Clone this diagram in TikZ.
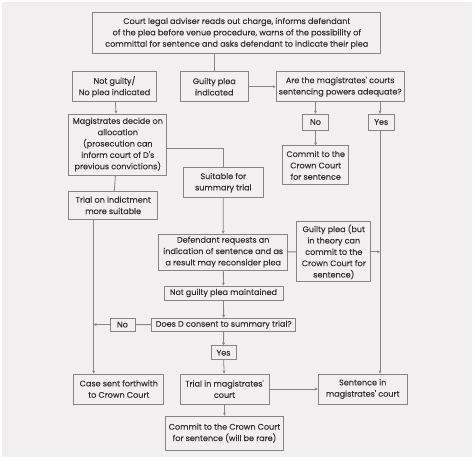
\documentclass[tikz,border=0pt]{standalone}
\usepackage{xcolor}
\usepackage{fontspec}
\setmainfont{Poppins}
\newfontfamily\boxfont{Poppins}[FakeBold=0.3]
\usepackage{tikz}
\usetikzlibrary{arrows.meta, positioning, calc}
\definecolor{panelgray}{HTML}{F1EFF0}
\definecolor{linegray}{HTML}{858585}
\definecolor{textgray}{HTML}{333333}

\begin{document}
\begin{tikzpicture}[x=1bp, y=-1bp,
    box/.style={draw=linegray, line width=0.8bp, align=center, inner sep=0pt, font=\boxfont\fontsize{8.1}{11.4}\selectfont, text=textgray},
    arr/.style={-{Stealth[length=3pt, width=3pt]}, draw=linegray, line width=0.8bp},
    ln/.style={draw=linegray, line width=0.8bp}]
    \useasboundingbox (0,0) rectangle (474,462);
    \fill[white] (0,0) rectangle (474,462);
    \fill[panelgray] (2,2) rectangle (472,457);

    \node[box, minimum width=288bp, minimum height=41bp] (top) at (236.8,33.3) {Court legal adviser reads out charge, informs defendant\\of the plea before venue procedure, warns of the possibility of\\committal for sentence and asks defendant to indicate their plea};
    \node[box, minimum width=84bp, minimum height=30bp] (ng) at (114.5,86.7) {Not guilty/\\No plea indicated};
    \node[box, minimum width=68bp, minimum height=30bp] (gp) at (214.3,86.7) {Guilty plea\\indicated};
    \node[box, minimum width=128bp, minimum height=30bp] (adeq) at (340.2,86.7) {Are the magistrates' courts\\sentencing powers adequate?};
    \node[box, minimum width=98bp, minimum height=61bp] (mag) at (117.8,144.5) {Magistrates decide on\\allocation\\(prosecution can\\inform court of D's\\previous convictions)};
    \node[box, minimum width=26bp, minimum height=16bp] (no1) at (315.5,122) {No};
    \node[box, minimum width=26bp, minimum height=16bp] (yes1) at (381.2,122) {Yes};
    \node[box, minimum width=66bp, minimum height=39bp] (commit) at (315.7,165.3) {Commit to the\\Crown Court\\for sentence};
    \node[box, minimum width=89bp, minimum height=28bp] (indict) at (113.2,205.3) {Trial on indictment\\more suitable};
    \node[box, minimum width=80bp, minimum height=30bp] (suit) at (223.3,182.7) {Suitable for\\summary trial};
    \node[box, minimum width=129bp, minimum height=36bp] (defreq) at (223.2,252) {Defendant requests an\\indication of sentence and as\\a result may reconsider plea};
    \node[box, minimum width=74bp, minimum height=60bp] (gpbut) at (333.8,251.8) {Guilty plea (but\\in theory can\\commit to the\\Crown Court for\\sentence)};
    \node[box, minimum width=119bp, minimum height=14bp] (ngm) at (223.5,293) {Not guilty plea maintained};
    \node[box, minimum width=144bp, minimum height=13bp] (doesd) at (223.7,324.7) {Does D consent to summary trial?};
    \node[box, minimum width=25bp, minimum height=13bp] (no2) at (122.5,324.6) {No};
    \node[box, minimum width=25bp, minimum height=14bp] (yes2) at (223.5,352.8) {Yes};
    \node[box, minimum width=90bp, minimum height=30bp] (case) at (118.8,389) {Case sent forthwith\\to Crown Court};
    \node[box, minimum width=89bp, minimum height=30bp] (trial) at (224.5,389) {Trial in magistrates'\\court};
    \node[box, minimum width=89bp, minimum height=30bp] (sent) at (362.7,389) {Sentence in\\magistrates' court};
    \node[box, minimum width=118bp, minimum height=34bp] (rare) at (224.5,433) {Commit to the Crown Court\\for sentence (will be rare)};

    \coordinate (lx) at (93.7,0);
    \coordinate (rx) at (380,0);

    \draw[ln] (top.south -| gp) -- (gp.north);
    \draw[arr] (gp) -- (adeq);
    \draw[arr] (ng) -- (mag);
    \draw[arr] (adeq.south -| no1) -- (no1);
    \draw[arr] (adeq.south -| rx) -- (yes1.north -| rx);
    \draw[arr] (no1) -- (commit);
    \draw[arr] (yes1.south -| rx) -- (sent.north -| rx);
    \draw[ln] ([yshift=-3.8bp]mag.east) -| (suit.north);
    \draw[ln] (mag) -- (indict);
    \draw[arr] (indict.south -| lx) -- (case.north -| lx);
    \draw[arr] (suit) -- (defreq);
    \draw[ln] (defreq) -- (gpbut);
    \draw[arr] (gpbut.east) -- (gpbut.east -| rx);
    \draw[arr] (defreq) -- (ngm);
    \draw[arr] (ngm) -- (doesd);
    \draw[ln] (doesd) -- (no2);
    \draw[arr] (no2.west) -- (no2.west -| lx);
    \draw[arr] (doesd) -- (yes2);
    \draw[arr] (yes2) -- (trial);
    \draw[arr] (trial) -- (sent);
    \draw[arr] (trial) -- (rare);
\end{tikzpicture}
\end{document}
